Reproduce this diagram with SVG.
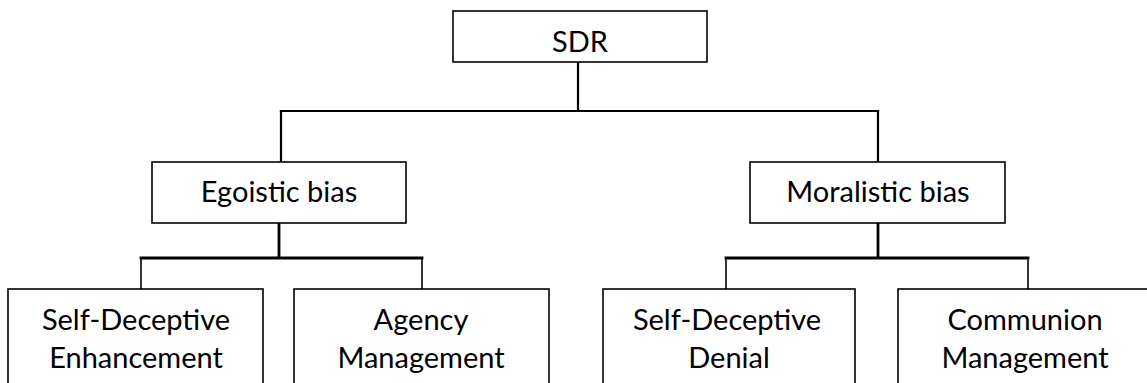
<svg xmlns="http://www.w3.org/2000/svg" width="1147" height="383" viewBox="0 0 1147 383">
<style>
.box{fill:#fff;stroke:#000;stroke-width:1.6}
.t{font-family:Lato,"Liberation Sans",sans-serif;font-size:29px;fill:#000;text-anchor:middle}
.c{fill:none;stroke:#000;stroke-linecap:square}
.thin{stroke-width:1.6}
.mid{stroke-width:2.2}
.thick{stroke-width:2.8}
</style>
<rect width="1147" height="383" fill="#fff"/>
<g id="connectors">
<path class="c mid" d="M578 62 V111 M281 111 H878"/>
<path class="c mid" d="M281 111 V161 M878 111 V161"/>
<path class="c thick" d="M279 223 V258 M141 258 H422"/>
<path class="c thin" d="M141 258 V289 M422 258 V289"/>
<path class="c thick" d="M878 223 V258 M726 258 H1028"/>
<path class="c thin" d="M726 258 V289 M1028 258 V289"/>
</g>
<g id="sdr">
<rect class="box" x="453" y="11" width="254" height="51"/>
<text class="t" x="580" y="52">SDR</text>
</g>
<g id="egoistic">
<rect class="box" x="152" y="162" width="254" height="61"/>
<text class="t" x="279" y="202">Egoistic bias</text>
</g>
<g id="moralistic">
<rect class="box" x="750" y="162" width="255" height="61"/>
<text class="t" x="878" y="202">Moralistic bias</text>
</g>
<g id="sde">
<rect class="box" x="8" y="289" width="255" height="110"/>
<text class="t" x="136" y="330">Self-Deceptive</text>
<text class="t" x="136" y="368">Enhancement</text>
</g>
<g id="agency">
<rect class="box" x="294" y="289" width="255" height="110"/>
<text class="t" x="421" y="330">Agency</text>
<text class="t" x="421" y="368">Management</text>
</g>
<g id="sdd">
<rect class="box" x="603" y="289" width="252" height="110"/>
<text class="t" x="727" y="330">Self-Deceptive</text>
<text class="t" x="729" y="368">Denial</text>
</g>
<g id="communion">
<rect class="box" x="898" y="289" width="260" height="110"/>
<text class="t" x="1025" y="330">Communion</text>
<text class="t" x="1025" y="368">Management</text>
</g>
</svg>
